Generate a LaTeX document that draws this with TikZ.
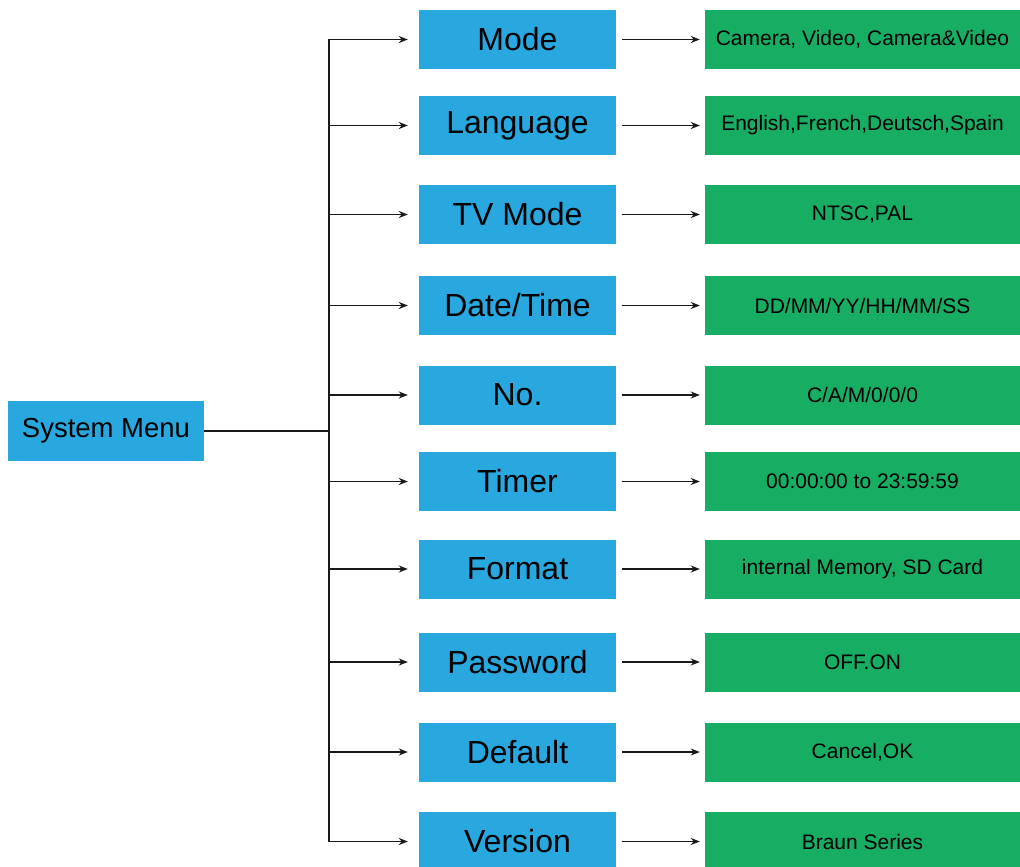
\documentclass[tikz,border=0pt]{standalone}
\usepackage{fontspec}
\setmainfont{Liberation Sans}
\usetikzlibrary{arrows.meta}
\definecolor{menublue}{RGB}{41,168,224}
\definecolor{optgreen}{RGB}{23,173,99}
\begin{document}
\begin{tikzpicture}[x=1pt,y=-1pt,
  rootbox/.style={rectangle,fill=menublue,draw=none,minimum width=196pt,minimum height=60pt,inner sep=0pt,font=\fontsize{27.5}{33}\selectfont},
  itembox/.style={rectangle,fill=menublue,draw=none,minimum width=197pt,minimum height=59pt,inner sep=0pt,font=\fontsize{32}{38}\selectfont},
  optbox/.style={rectangle,fill=optgreen,draw=none,minimum width=315pt,minimum height=59pt,inner sep=0pt,font=\fontsize{21}{25}\selectfont},
  wire/.style={draw=black!90,line width=1.8pt},
  arr/.style={wire,-{Stealth[length=9pt,width=7pt]}}
]
\useasboundingbox[fill=white] (0,0) rectangle (1020,867);
\node[rootbox] (sys) at (106,431) {System Menu};
\coordinate (j) at (329,431);
\foreach \i/\y/\name/\opt in {
  1/39.5/Mode/{Camera, Video, Camera\&Video},
  2/125.5/Language/{English,French,Deutsch,Spain},
  3/214.5/TV Mode/{NTSC,PAL},
  4/305.5/Date\slash Time/{DD/MM/YY/HH/MM/SS},
  5/395/No./{C/A/M/0/0/0},
  6/481.5/Timer/{00:00:00 to 23:59:59},
  7/569/Format/{internal Memory, SD Card},
  8/662/Password/{OFF.ON},
  9/752/Default/{Cancel,OK},
  10/841.5/Version/{Braun Series}}{
  \node[itembox] (b\i) at (517.5,\y) {\name};
  \node[optbox] (g\i) at (862.5,\y) {\opt};
  \draw[arr,shorten >=11pt] (j |- b\i.west) -- (b\i.west);
  \draw[arr,shorten <=6pt,shorten >=5pt] (b\i.east) -- (g\i.west);
}
\draw[wire] (sys.east) -- (j);
\draw[wire,line cap=rect] (j |- b1.west) -- (j |- b10.west);
\end{tikzpicture}
\end{document}
